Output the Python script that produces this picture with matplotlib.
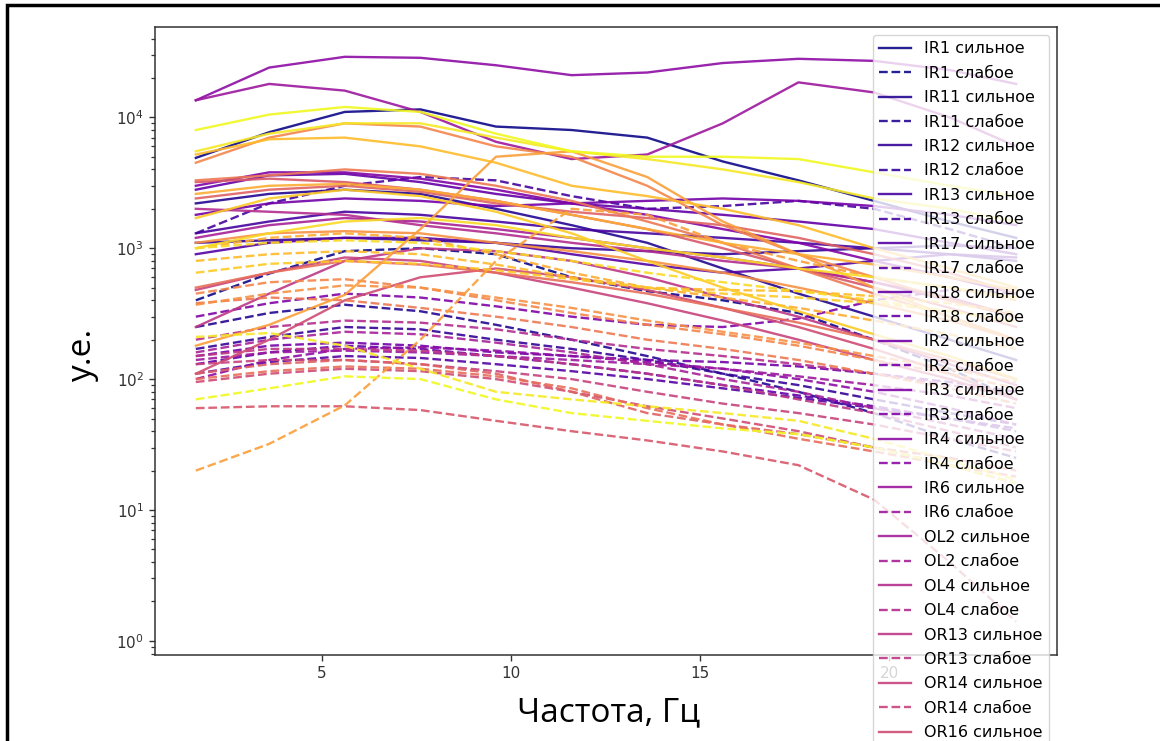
import numpy as np
import matplotlib.pyplot as plt
from matplotlib.patches import Rectangle

# частоты, Гц
freq = [1.66, 3.6, 5.6, 7.6, 9.6, 11.6, 13.6, 15.6, 17.6, 19.6, 21.6, 23.36]

bearings = ["IR1", "IR11", "IR12", "IR13", "IR17", "IR18", "IR2", "IR3", "IR4", "IR6",
            "OL2", "OL4", "OR13", "OR14", "OR16", "OR17", "OR18", "OR19", "OR2", "OR20",
            "OR21", "OR22", "OR3", "OR4", "OR5", "OR6", "OR7", "OR8"]

# сильное повреждение
strong = [
    [4.9e3, 7.7e3, 1.1e4, 1.15e4, 8.5e3, 8e3, 7e3, 4.6e3, 3.3e3, 2.3e3, 1.6e3, 1.2e3],
    [2.2e3, 2.6e3, 2.8e3, 2.6e3, 2.0e3, 1.5e3, 1.1e3, 700, 450, 300, 200, 140],
    [1.1e3, 1.15e3, 1.2e3, 1.15e3, 1.1e3, 1.0e3, 950, 900, 950, 1.0e3, 1.05e3, 1.0e3],
    [1.3e3, 1.6e3, 1.9e3, 1.8e3, 1.6e3, 1.4e3, 1.3e3, 1.2e3, 1.1e3, 1.0e3, 900, 800],
    [900, 1.1e3, 1.2e3, 1.2e3, 1.1e3, 900, 750, 650, 700, 800, 900, 850],
    [2.8e3, 3.6e3, 3.7e3, 3.2e3, 2.6e3, 2.2e3, 2.0e3, 1.8e3, 1.6e3, 1.4e3, 1.1e3, 900],
    [1.8e3, 2.2e3, 2.4e3, 2.3e3, 2.1e3, 2.2e3, 2.3e3, 2.4e3, 2.3e3, 2.1e3, 1.8e3, 1.5e3],
    [3.0e3, 3.8e3, 3.8e3, 3.4e3, 2.8e3, 2.2e3, 1.8e3, 1.4e3, 1.1e3, 800, 600, 450],
    [1.35e4, 2.4e4, 2.9e4, 2.85e4, 2.5e4, 2.1e4, 2.2e4, 2.6e4, 2.8e4, 2.7e4, 2.3e4, 1.8e4],
    [1.35e4, 1.8e4, 1.6e4, 1.1e4, 6.5e3, 4.8e3, 5.2e3, 9e3, 1.85e4, 1.55e4, 1.0e4, 6e3],
    [1.2e3, 1.5e3, 1.7e3, 1.6e3, 1.4e3, 1.2e3, 1.0e3, 850, 700, 550, 400, 300],
    [2.0e3, 1.9e3, 1.8e3, 1.5e3, 1.3e3, 1.1e3, 950, 800, 700, 550, 420, 300],
    [250, 450, 800, 1.0e3, 950, 800, 600, 420, 300, 200, 130, 90],
    [480, 650, 850, 800, 650, 500, 380, 280, 200, 140, 100, 70],
    [110, 200, 400, 600, 700, 600, 480, 350, 250, 170, 110, 70],
    [3.2e3, 3.4e3, 3.2e3, 2.8e3, 2.3e3, 1.8e3, 1.4e3, 1.0e3, 700, 500, 350, 250],
    [2.4e3, 2.8e3, 3.0e3, 2.7e3, 2.2e3, 1.9e3, 1.7e3, 1.5e3, 1.2e3, 900, 650, 450],
    [500, 650, 800, 750, 650, 550, 450, 350, 270, 200, 140, 100],
    [3.3e3, 3.6e3, 4.0e3, 3.7e3, 3.0e3, 2.3e3, 1.6e3, 1.1e3, 700, 450, 300, 200],
    [4.5e3, 7e3, 9e3, 8.5e3, 6e3, 5e3, 3e3, 1.5e3, 900, 600, 400, 300],
    [1.1e3, 1.3e3, 1.35e3, 1.3e3, 1.1e3, 950, 800, 650, 500, 380, 280, 200],
    [180, 260, 440, 1.4e3, 5e3, 5.5e3, 3.5e3, 1.6e3, 900, 500, 300, 200],
    [2.6e3, 3.0e3, 3.1e3, 2.8e3, 2.3e3, 1.8e3, 1.4e3, 1.1e3, 900, 750, 600, 480],
    [5.2e3, 6.8e3, 7e3, 6e3, 4.5e3, 3e3, 2.5e3, 2e3, 1.5e3, 1e3, 700, 500],
    [1.7e3, 2.4e3, 2.8e3, 2.5e3, 1.9e3, 1.3e3, 800, 500, 330, 220, 150, 100],
    [1.0e3, 1.3e3, 1.6e3, 1.7e3, 1.5e3, 1.2e3, 1.0e3, 850, 700, 600, 500, 420],
    [5.5e3, 7.5e3, 9e3, 9e3, 7e3, 5.5e3, 4.8e3, 4e3, 3.2e3, 2.4e3, 2e3, 1.6e3],
    [8e3, 1.05e4, 1.2e4, 1.1e4, 7.5e3, 5.5e3, 5e3, 5e3, 4.8e3, 3.8e3, 3e3, 2.5e3],
]

# слабое повреждение
weak = [
    [400, 640, 950, 1.0e3, 900, 600, 470, 400, 320, 200, 120, 70],
    [250, 320, 370, 330, 260, 200, 150, 110, 80, 55, 35, 25],
    [170, 210, 250, 240, 200, 170, 140, 110, 90, 70, 55, 45],
    [1.3e3, 2.2e3, 3.0e3, 3.5e3, 3.3e3, 2.5e3, 2.0e3, 2.1e3, 2.3e3, 2.0e3, 1.4e3, 1.0e3],
    [110, 135, 150, 145, 130, 115, 100, 85, 72, 60, 50, 42],
    [130, 160, 180, 170, 150, 130, 110, 90, 75, 62, 50, 40],
    [150, 180, 190, 180, 160, 150, 140, 135, 125, 110, 95, 80],
    [300, 380, 450, 420, 360, 300, 260, 250, 290, 400, 480, 450],
    [100, 140, 170, 175, 165, 150, 135, 120, 100, 80, 60, 45],
    [140, 160, 165, 160, 150, 140, 130, 120, 105, 90, 75, 60],
    [160, 200, 230, 220, 190, 160, 130, 100, 80, 60, 45, 35],
    [200, 250, 280, 270, 240, 200, 170, 150, 130, 110, 90, 75],
    [150, 170, 170, 165, 150, 130, 110, 90, 70, 55, 40, 30],
    [130, 140, 140, 130, 115, 100, 80, 65, 55, 45, 35, 28],
    [95, 110, 120, 115, 100, 80, 62, 50, 40, 30, 22, 16],
    [60, 62, 62, 58, 48, 40, 34, 28, 22, 12, 4, 1.4],
    [110, 130, 140, 130, 110, 80, 55, 45, 38, 30, 25, 20],
    [100, 115, 125, 120, 105, 85, 60, 45, 35, 28, 22, 18],
    [380, 420, 400, 350, 300, 250, 200, 170, 140, 110, 85, 65],
    [450, 550, 580, 500, 400, 320, 260, 220, 180, 140, 110, 85],
    [370, 450, 520, 500, 420, 350, 280, 230, 190, 150, 120, 95],
    [20, 32, 63, 200, 800, 2000, 1800, 1100, 800, 600, 500, 400],
    [1.0e3, 1.2e3, 1.3e3, 1.2e3, 900, 650, 500, 420, 350, 280, 220, 170],
    [800, 900, 950, 900, 750, 600, 500, 480, 470, 430, 380, 320],
    [650, 760, 800, 760, 680, 580, 500, 450, 420, 380, 330, 280],
    [1.0e3, 1.1e3, 1.15e3, 1.1e3, 950, 800, 650, 550, 470, 400, 330, 270],
    [210, 225, 180, 120, 80, 70, 62, 55, 48, 35, 24, 17],
    [70, 85, 105, 100, 70, 55, 48, 42, 38, 30, 22, 16],
]


def main():
    fig = plt.figure(figsize=(11.6, 7.41), dpi=100)
    ax = fig.add_axes([155 / 1160, 86 / 741, 902 / 1160, 628 / 741])

    colors = plt.cm.plasma(np.linspace(0, 1, len(bearings)))
    for name, c, s, w in zip(bearings, colors, strong, weak):
        ax.plot(freq, s, color=c, lw=1.7, alpha=0.9, label=f"{name} сильное")
        ax.plot(freq, w, color=c, lw=1.7, ls="--", alpha=0.9, label=f"{name} слабое")

    ax.set_yscale("log")
    ax.set_xlim(0.58, 24.44)
    ax.set_ylim(0.78, 4.9e4)
    ax.set_xticks([5, 10, 15, 20])
    ax.tick_params(labelsize=11, length=4.5, width=1.0, colors="#333333")
    ax.tick_params(which="minor", length=2.6, width=0.9, colors="#333333")
    for sp in ax.spines.values():
        sp.set_linewidth(1.1)
        sp.set_color("#333333")
    ax.legend(loc="upper right", fontsize=11.5, labelspacing=0.59)

    fig.text(0.525, 0.038, "Частота, Гц", fontsize=24, family="Open Sans",
             ha="center", va="center")
    fig.text(0.071, 0.52, "у.е.", fontsize=24, family="Open Sans",
             rotation=90, ha="center", va="center")

    # рамка слайда
    fig.patches.append(Rectangle((7 / 1160, -0.1), 1.2, 1.1 - 5 / 741,
                                 transform=fig.transFigure, fill=False,
                                 lw=2.5, ec="black"))

    fig.savefig("out.png", dpi=100)


if __name__ == "__main__":
    main()
